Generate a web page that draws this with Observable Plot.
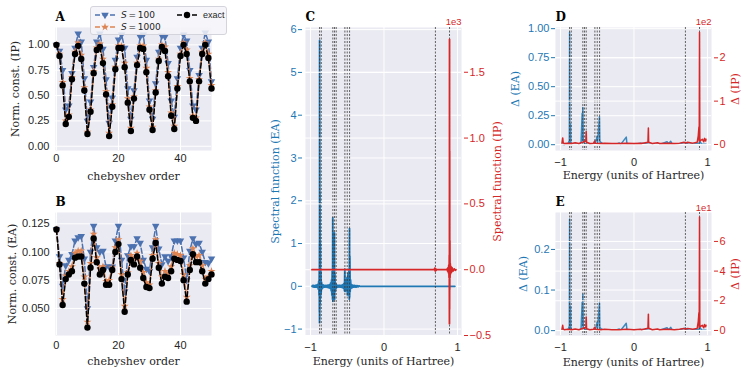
<!DOCTYPE html>
<html><head><meta charset="utf-8">
<script src="https://cdn.jsdelivr.net/npm/d3@7"></script>
<script src="https://cdn.jsdelivr.net/npm/@observablehq/plot@0.6"></script>
<style>
body{margin:0;background:#fff;}
#fig{position:relative;width:747px;height:376px;overflow:hidden;font-family:"Liberation Sans",Arial,sans-serif;}
#fig svg{position:absolute;background:transparent;overflow:visible;}
</style></head><body><div id="fig"></div>
<script>
// ---------------- data ----------------
const orders = [0,1,2,3,4,5,6,7,8,9,10,11,12,13,14,15,16,17,18,19,20,21,22,23,24,25,26,27,28,29,30,31,32,33,34,35,36,37,38,39,40,41,42,43,44,45,46,47,48,49,50];
const seriesNames = ["S = 100", "S = 1000", "exact"];
const ipS100 = [1.00,0.94,0.75,0.36,0.40,0.72,0.97,1.11,1.03,0.67,0.25,0.44,0.78,1.03,1.11,0.96,0.66,0.23,0.48,0.85,1.05,1.10,0.97,0.57,0.27,0.55,0.88,1.08,1.10,0.85,0.45,0.27,0.62,0.93,1.09,1.08,0.82,0.45,0.29,0.67,0.97,1.10,1.04,0.75,0.40,0.36,0.70,0.97,1.12,1.03,0.64];
const ipS1000 = [1.00,0.91,0.63,0.25,0.31,0.68,0.93,1.02,0.90,0.58,0.14,0.36,0.74,0.97,1.01,0.86,0.54,0.13,0.41,0.78,0.99,0.99,0.82,0.47,0.18,0.49,0.82,0.99,0.99,0.77,0.39,0.19,0.55,0.86,1.00,0.98,0.73,0.33,0.20,0.59,0.91,1.02,0.95,0.67,0.30,0.28,0.66,0.93,1.02,0.91,0.60];
const ipExact = [1.00,0.89,0.60,0.22,0.29,0.66,0.91,0.99,0.86,0.55,0.12,0.34,0.72,0.95,0.98,0.82,0.51,0.10,0.39,0.76,0.97,0.97,0.78,0.43,0.15,0.47,0.80,0.97,0.96,0.73,0.36,0.16,0.53,0.84,0.98,0.94,0.69,0.30,0.17,0.57,0.89,1.00,0.91,0.64,0.28,0.25,0.64,0.91,1.00,0.87,0.57];
const eaS100 = [0.120,0.096,0.070,0.088,0.093,0.098,0.110,0.113,0.114,0.094,0.050,0.100,0.123,0.104,0.100,0.101,0.087,0.087,0.087,0.110,0.123,0.093,0.065,0.097,0.105,0.105,0.112,0.108,0.093,0.085,0.083,0.104,0.123,0.103,0.089,0.096,0.092,0.096,0.110,0.110,0.110,0.095,0.075,0.101,0.112,0.107,0.108,0.100,0.091,0.090,0.094];
const eaS1000 = [0.120,0.090,0.058,0.079,0.083,0.087,0.099,0.101,0.101,0.078,0.038,0.090,0.116,0.095,0.085,0.087,0.074,0.075,0.086,0.104,0.111,0.080,0.052,0.082,0.097,0.094,0.099,0.092,0.082,0.073,0.071,0.097,0.111,0.090,0.078,0.083,0.081,0.087,0.099,0.098,0.097,0.080,0.060,0.088,0.103,0.096,0.097,0.088,0.076,0.078,0.083];
const eaExact = [0.120,0.089,0.053,0.076,0.080,0.083,0.095,0.096,0.096,0.072,0.033,0.086,0.112,0.091,0.080,0.084,0.071,0.071,0.084,0.100,0.107,0.076,0.047,0.080,0.093,0.089,0.096,0.086,0.077,0.069,0.068,0.094,0.108,0.086,0.072,0.078,0.077,0.083,0.094,0.093,0.092,0.075,0.056,0.084,0.098,0.091,0.091,0.083,0.072,0.076,0.080];

// Panel C: spectral functions  [energy, value]
const cEA = [[-0.98,0],[-0.972,0.02],[-0.965,-0.015],[-0.958,0.02],[-0.95,-0.02],[-0.943,0.015],[-0.935,-0.02],[-0.927,0.025],[-0.92,-0.02],[-0.912,0.03],[-0.905,-0.03],[-0.898,0.05],[-0.893,-0.07],[-0.888,0.12],[-0.884,-0.2],[-0.881,0.35],[-0.879,-0.6],[-0.878,1.0],[-0.877,-0.85],[-0.876,5.75],[-0.875,-0.75],[-0.874,3.9],[-0.873,-0.55],[-0.871,2.2],[-0.869,-0.4],[-0.866,1.0],[-0.863,-0.25],[-0.859,0.35],[-0.855,-0.15],[-0.85,0.1],[-0.843,-0.06],[-0.835,0.04],[-0.827,-0.03],[-0.82,0.025],[-0.81,-0.02],[-0.80,0.02],[-0.79,-0.02],[-0.78,0.02],[-0.77,-0.025],[-0.76,0.03],[-0.75,-0.035],[-0.74,0.04],[-0.732,-0.05],[-0.725,0.08],[-0.718,-0.1],[-0.713,0.15],[-0.709,-0.2],[-0.705,0.35],[-0.700,-0.3],[-0.697,1.6],[-0.695,-0.35],[-0.692,1.1],[-0.689,-0.25],[-0.685,0.6],[-0.681,-0.2],[-0.677,0.45],[-0.674,1.25],[-0.672,-0.3],[-0.668,0.3],[-0.663,-0.12],[-0.655,0.06],[-0.648,-0.04],[-0.64,0.03],[-0.63,-0.02],[-0.62,0.02],[-0.61,-0.02],[-0.60,0.025],[-0.59,-0.02],[-0.58,0.025],[-0.57,-0.03],[-0.56,0.04],[-0.55,-0.05],[-0.544,0.07],[-0.538,-0.1],[-0.533,0.4],[-0.530,-0.12],[-0.522,0.15],[-0.512,-0.1],[-0.503,0.2],[-0.497,-0.2],[-0.49,0.3],[-0.483,-0.15],[-0.476,0.4],[-0.472,-0.3],[-0.469,1.35],[-0.467,-0.25],[-0.464,0.7],[-0.46,-0.12],[-0.455,0.15],[-0.448,-0.05],[-0.44,0.04],[-0.43,-0.03],[-0.42,0.025],[-0.41,-0.02],[-0.40,0.02],[-0.39,-0.02],[-0.38,0.015],[-0.37,-0.015],[-0.36,0.015],[-0.35,-0.01],[-0.34,0.01],[-0.33,0],[0.965,0]];
const cIP = [[-0.98,0],[0.685,0],[0.692,12],[0.697,-10],[0.702,8],[0.708,-5],[0.715,0],[0.85,0],[0.86,6],[0.866,-10],[0.872,15],[0.877,-22],[0.882,35],[0.886,-60],[0.889,110],[0.891,-410],[0.892,1750],[0.893,-300],[0.894,900],[0.895,-150],[0.897,220],[0.899,-60],[0.902,45],[0.906,-30],[0.91,25],[0.918,-20],[0.926,15],[0.94,-10],[0.955,6],[0.97,-4],[0.98,0]];
// Panel D: deviations, S = 100
const dEA = [[-0.98,0.004],[-0.95,0.002],[-0.92,0.006],[-0.895,0.01],[-0.885,0.03],[-0.88,0.015],[-0.876,0.97],[-0.873,0.02],[-0.868,0.05],[-0.864,0.18],[-0.860,0.02],[-0.85,0.01],[-0.82,0.004],[-0.78,0.006],[-0.74,0.004],[-0.72,0.02],[-0.705,0.27],[-0.700,0.04],[-0.696,0.32],[-0.690,0.03],[-0.680,0.02],[-0.66,0.005],[-0.62,0.003],[-0.58,0.006],[-0.55,0.004],[-0.53,0.015],[-0.51,0.05],[-0.503,0.07],[-0.495,0.02],[-0.47,0.24],[-0.465,0.03],[-0.45,0.02],[-0.42,0.005],[-0.35,0.004],[-0.25,0.003],[-0.2,0.015],[-0.18,0.003],[-0.105,0.065],[-0.095,0.004],[0.0,0.003],[0.1,0.012],[0.2,0.004],[0.35,0.003],[0.45,0.025],[0.47,0.008],[0.5,0.03],[0.52,0.005],[0.6,0.003],[0.7,0.02],[0.72,0.01],[0.75,0.003],[0.88,0.01],[0.895,0.03],[0.92,0.004],[0.98,0.003]];
const dIP = [[-0.98,3],[-0.97,15],[-0.963,4],[-0.95,2],[-0.9,3],[-0.85,2],[-0.8,4],[-0.75,2],[-0.7,5],[-0.655,8],[-0.65,30],[-0.645,5],[-0.6,2],[-0.55,3],[-0.535,8],[-0.53,3],[-0.45,2],[-0.4,3],[-0.3,2],[-0.2,2],[-0.1,3],[0.0,2],[0.09,3],[0.1,2],[0.19,5],[0.196,38],[0.2,5],[0.25,2],[0.32,4],[0.35,2],[0.45,3],[0.55,2],[0.62,3],[0.68,5],[0.7,3],[0.73,5],[0.8,3],[0.86,5],[0.875,20],[0.884,40],[0.888,8],[0.892,259],[0.896,15],[0.9,8],[0.93,12],[0.95,6],[0.96,14],[0.975,8],[0.98,12]];
// Panel E: deviations, S = 1000
const eEA = [[-0.98,0.001],[-0.95,0.001],[-0.92,0.002],[-0.895,0.003],[-0.885,0.009],[-0.88,0.004],[-0.876,0.275],[-0.873,0.006],[-0.868,0.015],[-0.864,0.06],[-0.860,0.005],[-0.85,0.003],[-0.82,0.001],[-0.78,0.002],[-0.74,0.001],[-0.72,0.005],[-0.705,0.07],[-0.700,0.012],[-0.696,0.09],[-0.690,0.008],[-0.680,0.006],[-0.66,0.002],[-0.62,0.001],[-0.58,0.002],[-0.55,0.001],[-0.53,0.004],[-0.51,0.012],[-0.503,0.02],[-0.495,0.006],[-0.47,0.068],[-0.465,0.008],[-0.45,0.005],[-0.42,0.002],[-0.35,0.001],[-0.25,0.001],[-0.2,0.004],[-0.18,0.001],[-0.105,0.018],[-0.095,0.001],[0.0,0.001],[0.1,0.003],[0.2,0.001],[0.35,0.001],[0.45,0.007],[0.47,0.002],[0.5,0.008],[0.52,0.002],[0.6,0.001],[0.7,0.006],[0.72,0.003],[0.75,0.001],[0.88,0.003],[0.895,0.009],[0.92,0.001],[0.98,0.001]];
const eIP = [[-0.98,0.8],[-0.97,3.5],[-0.963,1],[-0.95,0.5],[-0.9,0.8],[-0.85,0.5],[-0.8,1],[-0.75,0.5],[-0.7,1.3],[-0.655,2],[-0.65,9],[-0.645,1.2],[-0.6,0.5],[-0.55,0.8],[-0.535,2.2],[-0.53,0.8],[-0.45,0.5],[-0.4,0.8],[-0.3,0.5],[-0.2,0.5],[-0.1,0.8],[0.0,0.5],[0.09,0.8],[0.1,0.5],[0.19,1.5],[0.196,11],[0.2,1.5],[0.25,0.5],[0.32,1],[0.35,0.5],[0.45,0.8],[0.55,0.5],[0.62,0.8],[0.68,1.4],[0.7,0.8],[0.73,1.4],[0.8,0.8],[0.86,1.4],[0.875,6],[0.884,12],[0.888,2],[0.892,76.5],[0.896,4],[0.9,2.5],[0.93,3.5],[0.95,1.8],[0.96,4],[0.975,2.5],[0.98,3.5]];
// reference energies (dashed vertical lines)
const refEnergies = [-0.876,-0.853,-0.696,-0.673,-0.650,-0.532,-0.500,-0.468,0.700,0.892];

// tick values
const orderTicks = [0,20,40];
const ipTicks = [0,0.25,0.5,0.75,1];
const eaTicks = [0.05,0.075,0.1,0.125];
const energyTicks = [-1,0,1];
const cLeftTicks = [-1,0,1,2,3,4,5,6];
const cRightTicks = [-500,0,500,1000,1500];
const dLeftTicks = [0,0.25,0.5,0.75,1];
const dRightTicks = [0,100,200];
const eLeftTicks = [0,0.1,0.2];
const eRightTicks = [0,20,40,60];

// ---------------- styling ----------------
const BG = "#eaeaf2", INK = "#262626", BLUE = "#1f77b4", RED = "#d62728";
const seriesColors = ["#4c72b0", "#dd8452", "#000000"];
const sqrt3 = Math.sqrt(3);
const triangleDown = {draw(ctx, size){ const y = Math.sqrt(size/(sqrt3*3)); ctx.moveTo(0, 2*y); ctx.lineTo(-sqrt3*y, -y); ctx.lineTo(sqrt3*y, -y); ctx.closePath(); }};
const seriesSymbols = [triangleDown, "star", "circle"];
const seriesR = [2.8, 2.5, 3.2];
const style = {fontFamily: "'Liberation Sans', Arial, sans-serif", fontSize: "11px", background: "transparent", overflow: "visible", color: INK};
const serif = "'DejaVu Serif', serif";
const fig = document.getElementById("fig");
function place(svg, left, top){ svg.style.left = left + "px"; svg.style.top = top + "px"; fig.appendChild(svg); }
const grid = {stroke: "white", strokeOpacity: 1, strokeWidth: 1};
const fmt = d3.format("d");

function chebPanel(series, yDomain, yTicks, yFmt, yLabel, labelDx, letter, h, mb, xPad){
  const marks = [
    Plot.frame({fill: BG, stroke: "none"}),
    Plot.gridX(orderTicks, grid),
    Plot.gridY(yTicks, grid)
  ];
  series.forEach((vals, k) => {
    marks.push(Plot.line(vals, {x: orders, y: d => d, stroke: seriesColors[k], strokeWidth: 1.5, strokeDasharray: "5,2.5"}));
    marks.push(Plot.dot(vals, {x: orders, y: d => d, fill: seriesColors[k], stroke: "none", symbol: seriesSymbols[k], r: seriesR[k]}));
  });
  marks.push(
    Plot.axisX(orderTicks, {tickSize: 0, tickPadding: xPad, tickFormat: fmt, label: null}),
    Plot.axisY(yTicks, {tickSize: 0, tickPadding: 6, tickFormat: yFmt, label: null}),
    Plot.text([yLabel], {text: d => d, frameAnchor: "left", rotate: -90, dx: labelDx, textAnchor: "middle", lineAnchor: "middle", fontFamily: serif, fontSize: 11, fill: INK}),
    Plot.text(["chebyshev order"], {text: d => d, frameAnchor: "bottom", dy: 26, textAnchor: "middle", lineAnchor: "middle", fontFamily: serif, fontSize: 11, fill: INK}),
    Plot.text([letter], {text: d => d, frameAnchor: "top-left", dy: -10, textAnchor: "start", lineAnchor: "middle", fontFamily: serif, fontWeight: "bold", fontSize: 12, fill: "black"})
  );
  return Plot.plot({width: 245, height: h, marginLeft: 55, marginRight: 34, marginTop: 27, marginBottom: mb, style,
    x: {domain: [-0.3, 50]}, y: {domain: yDomain}, marks});
}

place(chebPanel([ipS100, ipS1000, ipExact], [-0.042, 1.171], ipTicks, d3.format(".2f"), "Norm. const. (IP)", -40, "A", 185, 35, 4), 0, 0);
place(chebPanel([eaS100, eaS1000, eaExact], [0.026, 0.135], eaTicks, d3.format(".3f"), "Norm. const. (EA)", -43, "B", 191, 41, 6), 0, 185);

function dualPanel(o){
  const common = {width: o.w, height: o.h, marginLeft: 55, marginRight: o.mr, marginTop: 27, marginBottom: o.mb, style, x: {domain: [-1.068, 1.055]}};
  const ex = d => d[0], ey = d => d[1];
  const bottom = Plot.plot({...common, y: {domain: o.lDomain},
    marks: [
      Plot.frame({fill: BG, stroke: "none"}),
      Plot.gridX(energyTicks, grid),
      Plot.gridY(o.lTicks, grid),
      Plot.line(o.ea, {x: ex, y: ey, stroke: BLUE, strokeWidth: o.eaWidth, strokeOpacity: o.eaOpacity}),
      Plot.ruleX(refEnergies, {stroke: "#333", strokeOpacity: 0.75, strokeWidth: 1, strokeDasharray: "2,1.5"}),
      Plot.axisX(energyTicks, {tickSize: 0, tickPadding: 8, tickFormat: fmt, label: null}),
      Plot.axisY(o.lTicks, {anchor: "left", color: BLUE, tickSize: 4, tickPadding: 2, dx: o.ldx, tickFormat: o.lFmt, label: null}),
      Plot.text([o.lLabel], {text: d => d, frameAnchor: "left", rotate: -90, dx: o.lLabelDx, textAnchor: "middle", lineAnchor: "middle", fontFamily: serif, fontSize: 11, fill: BLUE}),
      Plot.text(["Energy (units of Hartree)"], {text: d => d, frameAnchor: "bottom", dy: o.xLabelDy, textAnchor: "middle", lineAnchor: "middle", fontFamily: serif, fontSize: 11, fill: INK}),
      Plot.text([o.letter], {text: d => d, frameAnchor: "top-left", dy: -10, textAnchor: "start", lineAnchor: "middle", fontFamily: serif, fontWeight: "bold", fontSize: 12, fill: "black"})
    ]});
  const top = Plot.plot({...common, x: {domain: [-1.068, 1.055], axis: null}, y: {domain: o.rDomain},
    marks: [
      Plot.gridY(o.rTicks, grid),
      Plot.line(o.ip, {x: ex, y: ey, stroke: RED, strokeWidth: o.ipWidth}),
      Plot.axisY(o.rTicks, {anchor: "right", color: RED, tickSize: 4, tickPadding: 2, dx: 2, tickFormat: o.rFmt, label: null}),
      Plot.text([o.rLabel], {text: d => d, frameAnchor: "right", rotate: -90, dx: o.rLabelDx, textAnchor: "middle", lineAnchor: "middle", fontFamily: serif, fontSize: 11, fill: RED}),
      Plot.text([o.exp], {text: d => d, frameAnchor: "top-right", dy: o.expDy, textAnchor: "end", lineAnchor: "middle", fontSize: 9.5, fill: RED})
    ]});
  place(bottom, o.left, o.top);
  place(top, o.left, o.top);
}

dualPanel({left: 250, top: 0, w: 250, h: 376, mr: 39, mb: 41, ea: cEA, ip: cIP,
  lDomain: [-1.15, 6.05], lTicks: cLeftTicks, lFmt: fmt, ldx: -3,
  rDomain: [-500, 1840], rTicks: cRightTicks, rFmt: d => (d/1000).toFixed(1).replace("-", "\u2212"),
  lLabel: "Spectral function (EA)", lLabelDx: -30, rLabel: "Spectral function (IP)", rLabelDx: 36,
  xLabelDy: 26, letter: "C", exp: "1e3", expDy: -6, eaWidth: 1.8, eaOpacity: 1, ipWidth: 1.8});
dualPanel({left: 500, top: 0, w: 247, h: 185, mr: 36, mb: 35, ea: dEA, ip: dIP,
  lDomain: [-0.05, 1.01], lTicks: dLeftTicks, lFmt: d3.format(".2f"), ldx: 0,
  rDomain: [-14, 270], rTicks: dRightTicks, rFmt: d => fmt(d/100),
  lLabel: "\u0394 (EA)", lLabelDx: -40, rLabel: "\u0394 (IP)", rLabelDx: 24,
  xLabelDy: 25, letter: "D", exp: "1e2", expDy: -6, eaWidth: 1.5, eaOpacity: 0.85, ipWidth: 1.5});
dualPanel({left: 500, top: 185, w: 247, h: 191, mr: 36, mb: 41, ea: eEA, ip: eIP,
  lDomain: [-0.012, 0.291], lTicks: eLeftTicks, lFmt: d3.format(".1f"), ldx: 0,
  rDomain: [-3.4, 79.5], rTicks: eRightTicks, rFmt: d => fmt(d/10),
  lLabel: "\u0394 (EA)", lLabelDx: -32, rLabel: "\u0394 (IP)", rLabelDx: 24,
  xLabelDy: 27, letter: "E", exp: "1e1", expDy: -5, eaWidth: 1.5, eaOpacity: 0.85, ipWidth: 1.5});

// ---------------- legend for panel A ----------------
const leg = document.createElement("div");
leg.style.cssText = "position:absolute;left:90px;top:6px;width:137px;height:29px;box-sizing:border-box;background:rgba(244,244,249,0.85);border:1px solid #d4d4dc;border-radius:3px;font-size:9px;color:#262626;";
const legPos = [[4, 8, 30], [4, 20, 30], [86, 8, 112]];
seriesNames.forEach((name, k) => {
  const [lx, ly, tx] = legPos[k];
  const ns = "http://www.w3.org/2000/svg";
  const s = document.createElementNS(ns, "svg");
  s.setAttribute("width", 20); s.setAttribute("height", 10);
  s.style.cssText = `position:absolute;left:${lx}px;top:${ly-5}px;overflow:visible;`;
  const ln = document.createElementNS(ns, "line");
  ln.setAttribute("x1", 0); ln.setAttribute("x2", 20); ln.setAttribute("y1", 5); ln.setAttribute("y2", 5);
  ln.setAttribute("stroke", seriesColors[k]); ln.setAttribute("stroke-width", 1.5); ln.setAttribute("stroke-dasharray", "5,2.5");
  s.appendChild(ln);
  const p = document.createElementNS(ns, "path");
  const sym = typeof seriesSymbols[k] === "string" ? (seriesSymbols[k] === "star" ? d3.symbolStar : d3.symbolCircle) : seriesSymbols[k];
  p.setAttribute("d", d3.symbol(sym, Math.PI * seriesR[k] * seriesR[k])());
  p.setAttribute("transform", "translate(10,5)");
  p.setAttribute("fill", seriesColors[k]);
  s.appendChild(p);
  leg.appendChild(s);
  const t = document.createElement("div");
  t.style.cssText = `position:absolute;left:${tx}px;top:${ly-6}px;line-height:12px;white-space:nowrap;`;
  if (name.startsWith("S")) {
    t.style.fontFamily = "'DejaVu Sans', sans-serif";
    t.innerHTML = "<i>S</i>\u2009=\u2009" + name.split("= ")[1];
  } else {
    t.textContent = name;
  }
  leg.appendChild(t);
});
fig.appendChild(leg);
</script></body></html>
